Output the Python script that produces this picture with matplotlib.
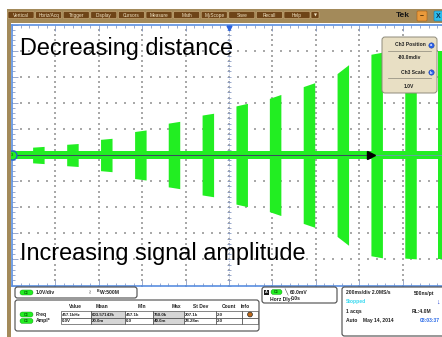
"""
Oscilloscope capture: ultrasonic bursts whose amplitude grows as the
distance decreases. Rebuilt as a static matplotlib figure.
"""

import matplotlib
matplotlib.use("Agg")
import matplotlib.pyplot as plt
from matplotlib.patches import Rectangle, FancyBboxPatch, Circle
from matplotlib.ticker import MultipleLocator
import numpy as np

plt.rcParams["font.family"] = ["Liberation Sans", "DejaVu Sans"]

# ── waveform (time in ms, amplitude in V at 1.0 V/div) ───────────────────────
BURST_START_MS = [-905, -748, -592, -435, -280, -124, 32, 186, 342, 498, 654, 810, 965]
BURST_WIDTH_MS = 53
BURST_AMP_START_V = [0.30, 0.41, 0.60, 0.90, 1.22, 1.53, 1.88, 2.17, 2.62, 3.12, 3.86, 3.95, 3.98]
BURST_AMP_END_V = [0.33, 0.44, 0.64, 0.96, 1.29, 1.60, 1.98, 2.32, 2.77, 3.46, 3.94, 3.98, 3.98]
NOISE_V = 0.17
REF_ARROW_MS = 655

TIME_SPAN_MS = (-1000, 1000)
VOLT_SPAN = (-5, 5)

# ── scope UI text ─────────────────────────────────────────────────────────────
MENU_ITEMS = ["Vertical", "Horiz/Acq", "Trigger", "Display", "Cursors",
              "Measure", "Math", "MyScope", "Save", "Recall", "Help"]
TABLE_COLS = ["Value", "Mean", "Min", "Max", "St Dev", "Count", "Info"]
FREQ_ROW = ["457.1kHz", "603.57143k", "457.1k", "750.0k", "207.1k", "2.0", ""]
AMPL_ROW = ["0.0V", "20.0m", "0.0", "40.0m", "28.28m", "2.0", ""]

GREEN = "#22ee22"
BROWN = "#a38a5a"
FRAME_BLUE = "#5a8fe0"
TICK_BLUE = "#8a9cc4"
GRID_DOT = "#a9a9a9"

W, H = 442, 337


def fbox(x0, y0, x1, y1):
    """pixel box (origin top-left) -> figure fraction rect"""
    return [x0 / W, 1 - y1 / H, (x1 - x0) / W, (y1 - y0) / H]


def green_tag(ov, x0, yc, w=13, h=5):
    ov.add_patch(FancyBboxPatch((x0, yc - h / 2), w, h,
                                boxstyle="round,pad=0,rounding_size=2.4",
                                facecolor=GREEN, edgecolor="#109010", lw=0.3))
    ov.text(x0 + w / 2, yc, "C3", fontsize=2.6, ha="center", va="center",
            color="#0a4a0a", fontweight="bold")


def panel(ov, x0, y0, x1, y1):
    ov.add_patch(FancyBboxPatch((x0, y0), x1 - x0, y1 - y0,
                                boxstyle="round,pad=0,rounding_size=2.5",
                                facecolor="white", edgecolor="#4a4a4a", lw=0.8))


def small(ov, x, y, s, ha="left", size=3.6, color="#222222", weight="bold"):
    ov.text(x, y, s, fontsize=size, ha=ha, va="center", color=color,
            fontweight=weight)


fig = plt.figure(figsize=(W / 100, H / 100), dpi=100)
fig.patch.set_facecolor("white")

# ── graticule + waveform ─────────────────────────────────────────────────────
ax = fig.add_axes(fbox(12, 24.5, 446, 285.5))
ax.set_xlim(*TIME_SPAN_MS)
ax.set_ylim(*VOLT_SPAN)
ax.set_facecolor("white")

# dotted grid (one dot per minor division)
for xv in np.arange(-800, 1000, 200):
    yy = np.arange(-5, 5.01, 0.2)
    ax.scatter(np.full_like(yy, xv), yy, s=0.8, c=GRID_DOT, marker="s", lw=0, zorder=1)
for yv in np.arange(-4, 5, 1):
    xx = np.arange(-1000, 1001, 40)
    ax.scatter(xx, np.full_like(xx, yv, dtype=float), s=0.8, c=GRID_DOT,
               marker="s", lw=0, zorder=1)

# centre cross with minor ticks
yy = np.arange(-5, 5.01, 0.2)
ax.plot(np.zeros_like(yy), yy, ls="none", marker="_", ms=2.6, mew=0.6,
        color=TICK_BLUE, zorder=2)
ax.axvline(0, color=TICK_BLUE, lw=0.4, ls=(0, (2, 2)), zorder=2)
xx = np.arange(-1000, 1001, 40)
ax.plot(xx, np.zeros_like(xx), ls="none", marker="|", ms=2.6, mew=0.6,
        color=TICK_BLUE, zorder=2)

# noise floor
ax.fill_between(TIME_SPAN_MS, -NOISE_V, NOISE_V, color=GREEN, lw=0, zorder=3)

# bursts
for t0, a0, a1 in zip(BURST_START_MS, BURST_AMP_START_V, BURST_AMP_END_V):
    t = np.array([t0, t0 + BURST_WIDTH_MS])
    a = np.array([a0, a1])
    ax.fill_between(t, -a, a, color=GREEN, lw=0, zorder=3)

# reference line, arrow and channel marker
ax.plot([TIME_SPAN_MS[0], REF_ARROW_MS], [0, 0], color="#3a4c60", lw=0.75, zorder=5)
ax.plot([REF_ARROW_MS, TIME_SPAN_MS[1]], [0, 0], color="#6f98b4", lw=0.6, zorder=5)
ax.plot(REF_ARROW_MS, 0, marker=">", ms=5.5, color="black", zorder=6)
ax.plot(TIME_SPAN_MS[0], 0, marker="o", ms=6.5, mfc=GREEN, mec="#1f5fd0",
        mew=0.9, clip_on=False, zorder=10)
ax.text(TIME_SPAN_MS[0], 0, "3", fontsize=3, ha="center", va="center",
        color="#0a4a0a", zorder=11, clip_on=False)
ax.plot(0, VOLT_SPAN[1] - 0.12, marker="v", ms=3.5, color="#2a62e0", zorder=7)

ax.xaxis.set_major_locator(MultipleLocator(200))
ax.xaxis.set_minor_locator(MultipleLocator(40))
ax.yaxis.set_major_locator(MultipleLocator(1))
ax.yaxis.set_minor_locator(MultipleLocator(0.2))
ax.tick_params(which="both", direction="in", top=True, right=True,
               labelbottom=False, labelleft=False, color=TICK_BLUE, width=0.6)
ax.tick_params(which="major", length=4)
ax.tick_params(which="minor", length=2.5)
for sp in ax.spines.values():
    sp.set_color(FRAME_BLUE)
    sp.set_linewidth(1.2)

# ── chrome overlay ────────────────────────────────────────────────────────────
ov = fig.add_axes([0, 0, 1, 1], zorder=10)
ov.set_xlim(0, W)
ov.set_ylim(H, 0)
ov.axis("off")
ov.patch.set_alpha(0)

# top menu bar and left strip
ov.add_patch(Rectangle((7, 9), W - 7, 14, facecolor=BROWN, lw=0))
ov.add_patch(Rectangle((7, 9), 4, H - 9, facecolor=BROWN, lw=0))
for i, name in enumerate(MENU_ITEMS):
    x0 = 8 + i * 27.6
    ov.add_patch(FancyBboxPatch((x0, 11.5), 26, 7,
                                boxstyle="round,pad=0,rounding_size=1.2",
                                facecolor="#6e4417", edgecolor="#d2b483", lw=0.4))
    ov.text(x0 + 13, 15.1, name, fontsize=3.4, ha="center", va="center",
            color="#f2e4c4")
ov.add_patch(FancyBboxPatch((311, 11.5), 8, 7, boxstyle="round,pad=0,rounding_size=1.2",
                            facecolor="#6e4417", edgecolor="#d2b483", lw=0.4))
ov.text(315, 15.2, "▼", fontsize=2.8, ha="center", va="center", color="#f2e4c4",
        family="DejaVu Sans")
ov.text(403, 15.5, "Tek", fontsize=6, ha="center", va="center", color="#151515",
        fontweight="bold")
ov.add_patch(FancyBboxPatch((417, 11), 10, 10, boxstyle="round,pad=0,rounding_size=1",
                            facecolor="#e99a3c", edgecolor="#a85d12", lw=0.4))
ov.text(422, 16, "–", fontsize=5, ha="center", va="center", color="#3a2000",
        fontweight="bold")
ov.add_patch(FancyBboxPatch((434, 11), 10, 10, boxstyle="round,pad=0,rounding_size=1",
                            facecolor="#2cbcec", edgecolor="#1a7aa8", lw=0.4))
ov.text(438.5, 16, "X", fontsize=5, ha="center", va="center", color="#0a3050",
        fontweight="bold")

# annotations on the screen
ov.text(20, 55, "Decreasing distance", fontsize=16.9, ha="left",
        va="baseline", color="black")
ov.text(20, 260, "Increasing signal amplitude", fontsize=16.9, ha="left",
        va="baseline", color="black")

# Ch3 position/scale popup
ov.add_patch(FancyBboxPatch((382, 37), 55, 56, boxstyle="round,pad=0,rounding_size=3",
                            facecolor="#e8dfc4", edgecolor="#8e8a7a", lw=0.7))
small(ov, 426, 45, "Ch3 Position", ha="right")
small(ov, 409, 57.5, "-80.0mdiv", ha="center")
small(ov, 425, 72, "Ch3 Scale", ha="right")
small(ov, 409, 86, "1.0V", ha="center")
for yl in (51, 78):
    ov.plot([388, 431], [yl, yl], color="#8a8678", lw=0.5)
for yc, lab in ((45.5, "a"), (72.5, "b")):
    ov.add_patch(Circle((431.5, yc), 2.7, facecolor="#2a5ee8", edgecolor="#1a3a90", lw=0.3))
    ov.text(431.5, yc, lab, fontsize=3, ha="center", va="center", color="white",
            fontweight="bold")

# vertical settings panel
panel(ov, 15, 287, 137, 298)
green_tag(ov, 20, 292.5)
small(ov, 36, 292.5, "1.0V/div")
small(ov, 88, 292.5, "≀", size=4, weight="normal")
small(ov, 97, 291.0, "B", size=2.6)
small(ov, 99.5, 292.7, "W:500M")

# measurement table
panel(ov, 15, 300, 259, 331)
col_edges = [61, 91, 125, 153, 184, 216, 242, 258]
row_edges = [311.3, 317.7, 324.2]
head_x = [75, 102, 142, 176, 201, 229, 245]
for hx, col in zip(head_x, TABLE_COLS):
    small(ov, hx, 306.5, col, ha="center", size=3.5)
for r, (label, vals) in enumerate((("Freq", FREQ_ROW), ("Ampl*", AMPL_ROW))):
    y0, y1 = row_edges[r], row_edges[r + 1]
    yc = (y0 + y1) / 2
    green_tag(ov, 20, yc)
    small(ov, 36, yc, label)
    for c, val in enumerate(vals):
        x0, x1 = col_edges[c], col_edges[c + 1]
        face = "#d6d6d6" if TABLE_COLS[c] in ("Mean", "Max") else "white"
        ov.add_patch(Rectangle((x0, y0), x1 - x0, y1 - y0, facecolor=face,
                               edgecolor="#2a2a2a", lw=0.4))
        if val:
            small(ov, x0 + 1, yc, val, size=3.2)
ov.add_patch(Circle((250, 314.5), 2.4, facecolor="#c06a1a", edgecolor="#2a2a2a", lw=0.5))

# trigger panel
panel(ov, 262, 287, 337, 303)
ov.add_patch(Rectangle((264, 289.5), 5, 5, facecolor="#1a1a1a", lw=0))
ov.text(266.5, 292, "A", fontsize=2.8, ha="center", va="center", color="white",
        fontweight="bold")
green_tag(ov, 271, 292, w=11)
small(ov, 284, 292, "╲", size=4, weight="normal")
small(ov, 290, 292, "60.0mV")
small(ov, 270, 299, "Horz Dly:")
small(ov, 291, 299, "0.0s")

# timebase panel
panel(ov, 342, 287, 450, 336)
small(ov, 346, 293, "200ms/div 2.0MS/s")
small(ov, 434, 293, "500ns/pt", ha="right")
small(ov, 346, 302, "Stopped", color="#33d8f0")
small(ov, 436.5, 302, "↓", size=5, color="#1a3ad0")
small(ov, 346, 311.5, "1 acqs")
small(ov, 431, 311.5, "RL:4.0M", ha="right")
small(ov, 346, 320.5, "Auto    May 14, 2014")
small(ov, 440, 320.5, "08:03:37", ha="right", color="#2a6ae8")

fig.savefig("out.png", dpi=100)
